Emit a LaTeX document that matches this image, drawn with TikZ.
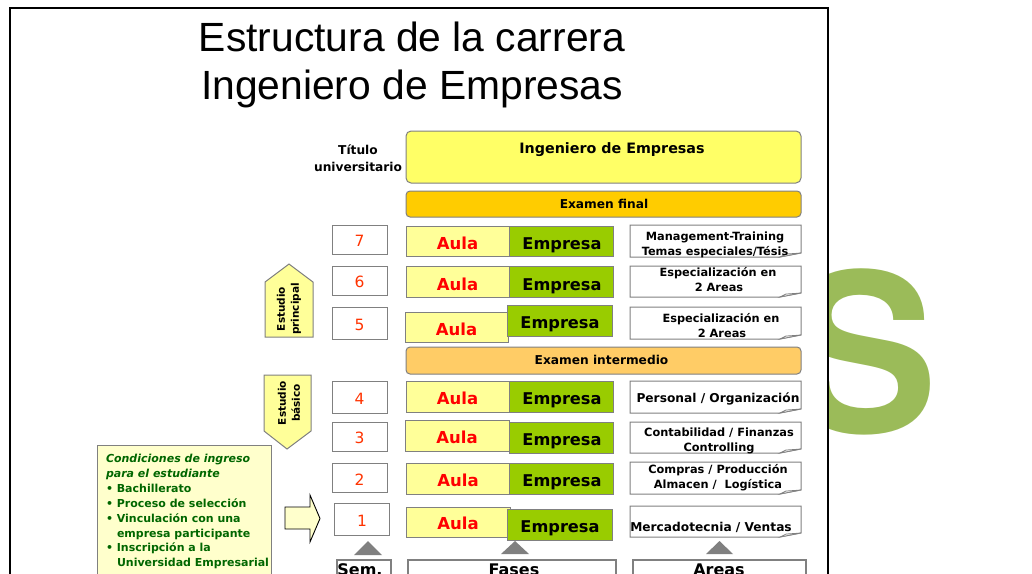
\documentclass[tikz,border=0pt]{standalone}
\usepackage{fontspec}
\setmainfont{DejaVu Sans}
\newfontfamily\arialf{Liberation Sans}
\newfontfamily\helvf{TeX Gyre Heros}
\definecolor{ly}{HTML}{FFFF99}
\definecolor{by}{HTML}{FFFF66}
\definecolor{eg}{HTML}{99CC00}
\definecolor{ef}{HTML}{FFCC00}
\definecolor{ei}{HTML}{FFCC66}
\definecolor{cy}{HTML}{FFFFCC}
\definecolor{gr}{HTML}{808080}
\definecolor{sg}{HTML}{9BBB59}
\definecolor{dg}{HTML}{006600}
\definecolor{nr}{HTML}{FF3300}
\tikzset{
  x=1pt,y=-1pt,
  lineb/.style={draw=gr,line width=1pt},
  semb/.style={lineb,fill=white},
  aulab/.style={lineb,fill=ly},
  empb/.style={lineb,fill=eg},
  areab/.style={lineb,fill=white},
  thickb/.style={draw=gr,line width=2pt,fill=white},
  trib/.style={fill=gr,draw=none},
  baset/.style={anchor=base,inner sep=0pt,outer sep=0pt},
  bt/.style={baset,font=\fontsize{12.2}{15}\selectfont\bfseries,align=center},
  st/.style={baset,font=\fontsize{11.35}{15}\selectfont\bfseries,align=center},
  aulat/.style={baset,text=red,font=\fontsize{16.5}{20}\selectfont\bfseries},
  empt/.style={baset,font=\fontsize{16.2}{20}\selectfont\bfseries},
  numt/.style={baset,text=nr,font=\fontsize{15.5}{20}\selectfont},
  condt/.style={baset,anchor=base west,text=dg,font=\fontsize{11}{15}\selectfont\bfseries},
  ttl/.style={baset,font=\arialf\fontsize{40.8}{48}\selectfont},
  stud/.style={inner sep=0pt,rotate=90,align=center,font=\fontsize{10.5}{14}\selectfont\bfseries},
}
\newcommand{\rowbox}[5]{\path[#1] (#2,#3) rectangle (#4,#5);}
\newcommand{\foldbox}[2]{%
  \path[areab] (630,#1)--(801,#1)--(801,#2-4)--(780,#2)--(630,#2)--cycle;
  \path[draw=gr,fill=white!90!gr,line width=.7pt] (801,#2-4)--(780,#2)--(786,#2-3)--cycle;}
\begin{document}
\begin{tikzpicture}
\useasboundingbox (0,0) rectangle (1032,573);
\clip (0,0) rectangle (1032,573);
\fill[white] (0,0) rectangle (1032,573);
% large letter behind the slide
\node[baset,text=sg,font=\helvf\fontsize{221}{221}\selectfont\bfseries] (bigs) at (864,432) {S};
\path[draw=black,fill=white,line width=1.5pt] (10,8) rectangle (828,590);
% title
\node[ttl] (t1) at (412,51) {Estructura de la carrera};
\node[ttl] (t2) at (412,99) {Ingeniero de Empresas};
\node[bt] (tit1) at (358,154.5) {Título};
\node[bt] (tit2) at (358,171) {universitario};
% top bars
\path[lineb,fill=by,rounded corners=5pt] (406,131) rectangle (801,183);
\node[baset,font=\fontsize{14.3}{18}\selectfont\bfseries] (ing) at (612,153) {Ingeniero de Empresas};
\path[lineb,fill=ef,rounded corners=4pt] (406,191) rectangle (801,217);
\node[bt] (ef) at (604,208.5) {Examen final};
\path[lineb,fill=ei,rounded corners=4pt] (406,347) rectangle (801,374);
\node[bt] (ei) at (601.5,364.5) {Examen intermedio};
% semester boxes
\rowbox{semb}{332}{225}{387}{254}
\rowbox{semb}{332}{266}{387}{295}
\rowbox{semb}{332}{307}{387}{339}
\rowbox{semb}{332}{381}{387}{413}
\rowbox{semb}{332}{422}{387}{451}
\rowbox{semb}{332}{463}{387}{492}
\rowbox{semb}{334}{503}{389}{535}
\node[numt] (n7) at (359.5,246) {7};
\node[numt] (n6) at (359.5,287) {6};
\node[numt] (n5) at (359.5,330) {5};
\node[numt] (n4) at (359.5,404) {4};
\node[numt] (n3) at (359.5,443) {3};
\node[numt] (n2) at (359.5,485) {2};
\node[numt] (n1) at (362,526) {1};
% aula / empresa
\rowbox{aulab}{406}{226}{509}{256}\rowbox{empb}{509}{226}{613}{256}
\rowbox{aulab}{406}{266}{509}{297}\rowbox{empb}{509}{266}{613}{297}
\rowbox{aulab}{405}{312}{508}{342}\rowbox{empb}{507}{305}{612}{336}
\rowbox{aulab}{406}{381}{509}{412}\rowbox{empb}{509}{381}{613}{412}
\rowbox{aulab}{405}{420}{509}{451}\rowbox{empb}{509}{422}{613}{453}
\rowbox{aulab}{406}{463}{509}{494}\rowbox{empb}{509}{463}{613}{494}
\rowbox{aulab}{406}{507}{510}{537}\rowbox{empb}{507}{509}{612}{540}
\node[aulat] (a7) at (457.5,249) {Aula};   \node[empt] (e7) at (562,249) {Empresa};
\node[aulat] (a6) at (457.5,290) {Aula};   \node[empt] (e6) at (562,290) {Empresa};
\node[aulat] (a5) at (456.5,335) {Aula};   \node[empt] (e5) at (560,328) {Empresa};
\node[aulat] (a4) at (457.5,404) {Aula};   \node[empt] (e4) at (562,404) {Empresa};
\node[aulat] (a3) at (457,443) {Aula};   \node[empt] (e3) at (562,445) {Empresa};
\node[aulat] (a2) at (458,486) {Aula};   \node[empt] (e2) at (562,486) {Empresa};
\node[aulat] (a1) at (458,529) {Aula};   \node[empt] (e1) at (560,532) {Empresa};
% area boxes
\foldbox{225}{257}\foldbox{266}{297}\foldbox{307}{339}\foldbox{381}{413}
\foldbox{422}{453}\foldbox{462}{494}\foldbox{506}{537}
\node[st] (m1) at (715,240) {Management-Training};
\node[st] (m2) at (715,255) {Temas especiales/Tésis};
\node[st] (s1) at (718,276) {Especialización en};
\node[st] (s2) at (719,291) {2 Areas};
\node[st] (s3) at (721,322) {Especialización en};
\node[st] (s4) at (722,337) {2 Areas};
\node[bt] (po) at (718,402) {Personal / Organización};
\node[st] (c1) at (719,436) {Contabilidad / Finanzas};
\node[st] (c2) at (719,451) {Controlling};
\node[st] (p1) at (718,473) {Compras / Producción};
\node[st] (p2) at (718,488) {Almacen /\ \ Logística};
\node[bt] (mv) at (711,531) {Mercadotecnia / Ventas};
% study pentagons
\path[lineb,fill=ly] (265,282)--(289,264)--(313,282)--(313,337)--(265,337)--cycle;
\node[stud] (ep) at (289,309) {Estudio\\principal};
\path[lineb,fill=ly] (264,375)--(311,375)--(311,431)--(287,449)--(264,431)--cycle;
\node[stud] (eb) at (289,403) {Estudio\\básico};
% conditions
\path[lineb,fill=cy] (97,445) rectangle (271,590);
\node[condt,font=\fontsize{11}{15}\selectfont\bfseries\itshape] (d1) at (106,462) {Condiciones de ingreso};
\node[condt,font=\fontsize{11}{15}\selectfont\bfseries\itshape] (d2) at (106,477) {para el estudiante};
\node[condt] (d3) at (106,492) {• Bachillerato};
\node[condt] (d4) at (106,507) {• Proceso de selección};
\node[condt] (d5) at (106,522) {• Vinculación con una};
\node[condt] (d6) at (117,537) {empresa participante};
\node[condt] (d7) at (106,551) {• Inscripción a la};
\node[condt] (d8) at (117,566) {Universidad Empresarial};
% entry arrow
\path[draw=black,fill=cy,line width=.9pt] (285,507)--(310,507)--(310,495)--(320,518.5)--(310,542)--(310,529)--(285,529)--cycle;
% pointers
\fill[trib] (354,555)--(368,541)--(382,555)--cycle;
\fill[trib] (501,554)--(515,541)--(529,554)--cycle;
\fill[trib] (706,554)--(719.5,541)--(733,554)--cycle;
% legend boxes
\path[thickb] (337,560) rectangle (391,590);
\path[thickb] (408,560) rectangle (616,590);
\path[thickb] (633,560) rectangle (806,590);
\node[baset,font=\fontsize{16}{20}\selectfont\bfseries] (ls) at (360,575) {Sem.};
\node[baset,font=\fontsize{16}{20}\selectfont\bfseries] (lf) at (514,575) {Fases};
\node[baset,font=\fontsize{16}{20}\selectfont\bfseries] (la) at (719,575) {Areas};
\end{tikzpicture}
\end{document}
